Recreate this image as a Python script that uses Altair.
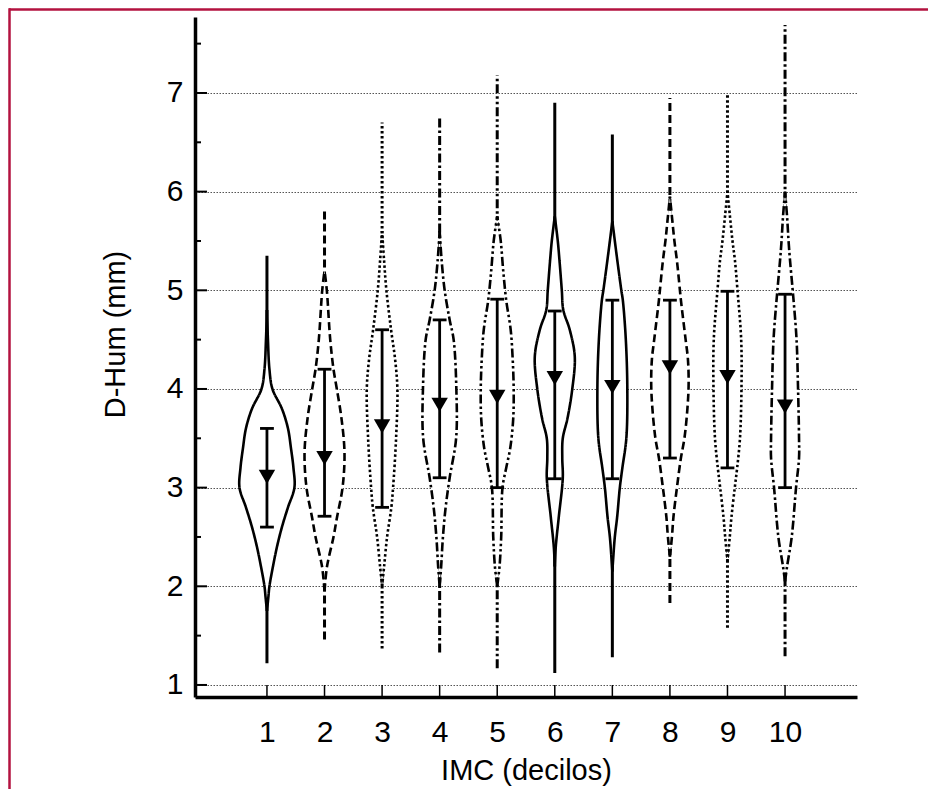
import altair as alt
import pandas as pd

# ---------------- data ----------------
DECILES = [1, 2, 3, 4, 5, 6, 7, 8, 9, 10]
STYLES = ["solid", "dashed", "dotted", "dashdot", "dashdotdot",
          "solid", "solid", "dashed", "dotted", "dashdot"]
MIN_VALS = [1.22, 1.46, 1.37, 1.33, 1.17, 1.12, 1.28, 1.83, 1.58, 1.29]
MAX_VALS = [5.35, 5.81, 6.70, 6.75, 7.18, 6.90, 6.58, 6.95, 6.99, 7.69]
MEAN_VALS = [3.11, 3.30, 3.62, 3.84, 3.92, 4.11, 4.02, 4.22, 4.12, 3.82]
LOW_VALS = [2.60, 2.71, 2.80, 3.10, 3.00, 3.09, 3.09, 3.30, 3.20, 3.00]
HIGH_VALS = [3.60, 4.20, 4.60, 4.70, 4.91, 4.79, 4.90, 4.90, 4.99, 4.96]

# violin outlines: D-Hum levels and half-widths (in decile units)
VIOLIN_Y = [
    [1.75, 1.9, 2.0, 2.2, 2.4, 2.6, 2.8, 3.0, 3.2, 3.4, 3.6, 3.8, 4.0, 4.2, 4.5, 4.8],
    [1.95, 2.2, 2.5, 2.7, 3.0, 3.35, 3.7, 4.0, 4.2, 4.5, 5.0, 5.2],
    [2.0, 2.2, 2.5, 2.8, 3.0, 3.5, 4.0, 4.3, 4.6, 5.0, 5.3, 5.6],
    [2.0, 2.2, 2.5, 2.8, 3.1, 3.5, 4.0, 4.5, 4.7, 5.0, 5.3, 5.6],
    [2.0, 2.2, 2.5, 3.0, 3.2, 3.4, 3.7, 4.0, 4.3, 4.6, 4.9, 5.2, 5.5, 5.75],
    [2.2, 2.4, 2.7, 3.1, 3.3, 3.5, 3.7, 4.0, 4.33, 4.6, 4.8, 5.0, 5.3, 5.5, 5.75],
    [2.15, 2.3, 2.5, 2.7, 3.0, 3.2, 3.5, 4.0, 4.5, 4.9, 5.0, 5.3, 5.5, 5.7],
    [2.3, 2.5, 2.7, 3.0, 3.3, 3.5, 3.8, 4.05, 4.3, 4.5, 4.9, 5.0, 5.3, 5.5, 5.7, 5.95],
    [2.25, 2.5, 2.7, 3.0, 3.2, 3.5, 4.0, 4.5, 5.0, 5.3, 5.5, 5.75, 6.0],
    [2.05, 2.2, 2.5, 3.0, 3.3, 3.5, 4.0, 4.5, 4.96, 5.3, 5.5, 5.75, 6.0],
]
VIOLIN_HW = [
    [0, 0.026, 0.043, 0.104, 0.174, 0.26, 0.365, 0.477, 0.46, 0.417, 0.365, 0.26, 0.095, 0.043, 0.017, 0],
    [0, 0.043, 0.156, 0.217, 0.313, 0.347, 0.295, 0.214, 0.156, 0.099, 0.04, 0],
    [0, 0.035, 0.087, 0.161, 0.191, 0.243, 0.266, 0.226, 0.156, 0.075, 0.035, 0],
    [0, 0.026, 0.057, 0.104, 0.174, 0.286, 0.29, 0.243, 0.174, 0.087, 0.035, 0],
    [0, 0.04, 0.069, 0.092, 0.156, 0.226, 0.278, 0.286, 0.269, 0.234, 0.156, 0.104, 0.061, 0],
    [0, 0.017, 0.069, 0.139, 0.13, 0.139, 0.22, 0.304, 0.347, 0.26, 0.148, 0.122, 0.082, 0.052, 0],
    [0, 0.017, 0.043, 0.083, 0.13, 0.174, 0.243, 0.26, 0.234, 0.182, 0.156, 0.087, 0.043, 0],
    [0, 0.035, 0.061, 0.122, 0.191, 0.252, 0.304, 0.325, 0.313, 0.273, 0.191, 0.174, 0.122, 0.078, 0.043, 0],
    [0, 0.04, 0.069, 0.127, 0.168, 0.217, 0.243, 0.238, 0.174, 0.13, 0.087, 0.043, 0],
    [0, 0.035, 0.116, 0.191, 0.243, 0.243, 0.226, 0.2, 0.139, 0.087, 0.061, 0.035, 0],
]

Y_GRID = [1, 2, 3, 4, 5, 6, 7]
Y_MINOR = [1.5, 2.5, 3.5, 4.5, 5.5, 6.5, 7.5]
X_TICKS = DECILES

# ---------------- tables ----------------
stats = pd.DataFrame({
    "decile": DECILES, "style": STYLES, "vmin": MIN_VALS, "vmax": MAX_VALS,
    "mean": MEAN_VALS, "lo": LOW_VALS, "hi": HIGH_VALS,
})
rows, edges = [], []
for d, s, ys, hws in zip(DECILES, STYLES, VIOLIN_Y, VIOLIN_HW):
    for y, hw in zip(ys, hws):
        rows.append({"decile": d, "style": s, "y": y, "xl": d - hw, "xr": d + hw})
        edges.append({"key": f"{d}L", "style": s, "y": y, "xe": d - hw})
        edges.append({"key": f"{d}R", "style": s, "y": y, "xe": d + hw})
violin = pd.DataFrame(rows)
edge = pd.DataFrame(edges)

FONT = "Liberation Sans"
W, H = 662, 680
XS = alt.Scale(domain=[-0.25, 11.25], nice=False, zero=False)
YS = alt.Scale(domain=[0.878, 7.77], nice=False, zero=False)
XAX = alt.Axis(values=X_TICKS, title="IMC (decilos)", grid=False, ticks=False, tickSize=0,
               labelPadding=20, labelFontSize=30, labelFont=FONT, labelColor="black",
               domainColor="black", domainWidth=3.5, titleFont=FONT, titleFontSize=29,
               titleFontWeight="normal", titleColor="black", titleY=73, titleBaseline="middle")
YAX = alt.Axis(values=Y_GRID, title="D-Hum (mm)", grid=True, gridColor="#555555",
               gridDash=[1.5, 1.5], gridWidth=1.2, ticks=False, tickSize=0,
               labelPadding=12, labelFontSize=30, labelFont=FONT, labelColor="black",
               domainColor="black", domainWidth=3.5, titleFont=FONT, titleFontSize=29,
               titleFontWeight="normal", titleColor="black", titleX=-80, titleY=317,
               titleBaseline="middle")

DASH = alt.StrokeDash("style:N", legend=None, scale=alt.Scale(
    domain=["solid", "dashed", "dotted", "dashdot", "dashdotdot"],
    range=[[1, 0], [8, 4], [2.5, 2.5], [9, 3, 2.5, 3], [9, 3, 2.5, 3, 2.5, 3]]))


def X(field):
    return alt.X(field, type="quantitative", scale=XS, axis=XAX, stack=False)


def Y(field):
    return alt.Y(field, type="quantitative", scale=YS, axis=YAX)


base = alt.Chart(stats)

whisker = base.mark_rule(color="black", strokeWidth=3).encode(
    x=X("decile"), y=Y("vmin"), y2="vmax", strokeDash=DASH)

violin_fill = alt.Chart(violin).mark_area(
    orient="horizontal", interpolate="catmull-rom", fill="white", fillOpacity=1, strokeWidth=0
).encode(x=X("xl"), x2="xr", y=Y("y"), detail="decile:N")

violin_edges = alt.Chart(edge).mark_line(
    interpolate="catmull-rom", color="black", strokeWidth=2.6
).encode(x=X("xe"), y=Y("y"), order="y:Q", detail="key:N", strokeDash=DASH)

sd = base.mark_rule(color="black", strokeWidth=2.8).encode(
    x=X("decile"), y=Y("lo"), y2="hi")

caps_lo = base.transform_calculate(cl="datum.decile - 0.12", cr="datum.decile + 0.12").mark_rule(
    color="black", strokeWidth=2.8).encode(x=X("cl"), x2="cr", y=Y("lo"))
caps_hi = base.transform_calculate(cl="datum.decile - 0.12", cr="datum.decile + 0.12").mark_rule(
    color="black", strokeWidth=2.8).encode(x=X("cl"), x2="cr", y=Y("hi"))

means = base.mark_point(shape="triangle-down", filled=True, color="black", opacity=1,
                        size=270).encode(x=X("decile"), y=Y("mean"))

ymaj = alt.Chart(pd.DataFrame({"v": Y_GRID})).mark_rule(color="black", strokeWidth=2).encode(
    y=Y("v"), x=alt.value(0), x2=alt.value(12))
ymin = alt.Chart(pd.DataFrame({"v": Y_MINOR})).mark_rule(color="black", strokeWidth=2).encode(
    y=Y("v"), x=alt.value(0), x2=alt.value(6))
xt = alt.Chart(pd.DataFrame({"v": X_TICKS})).mark_rule(color="black", strokeWidth=1.5).encode(
    x=X("v"), y=alt.value(H), y2=alt.value(H - 12))

one = pd.DataFrame({"a": [0]})
border_top = alt.Chart(one).mark_rule(color="#b3123f", strokeWidth=2.5).encode(
    x=alt.value(-186), x2=alt.value(740), y=alt.value(-7.5))
border_left = alt.Chart(one).mark_rule(color="#b3123f", strokeWidth=2.5).encode(
    x=alt.value(-185.5), y=alt.value(-8.7), y2=alt.value(780))

chart = alt.layer(
    whisker, violin_fill, violin_edges, sd, caps_lo, caps_hi, means, ymaj, ymin, xt,
    border_top, border_left
).properties(
    width=W, height=H,
    padding={"left": 187, "top": 9, "right": 71, "bottom": 92},
    autosize=alt.AutoSizeParams(type="none"),
    background="white",
).configure_view(stroke=None)

chart.save("out.html", embed_options={"renderer": "svg", "actions": False})
